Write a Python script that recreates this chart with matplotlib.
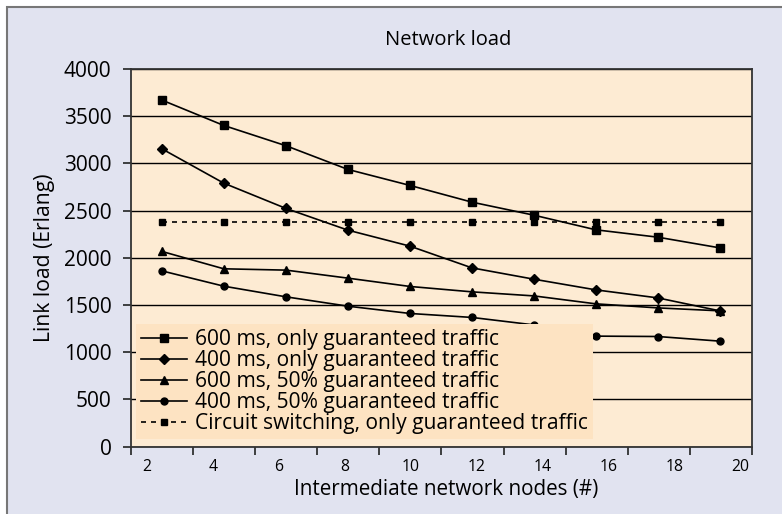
import matplotlib
matplotlib.use("Agg")
import matplotlib.pyplot as plt
from matplotlib.patches import Rectangle
import numpy as np

plt.rcParams['font.family'] = ['Open Sans', 'DejaVu Sans']

# intermediate network nodes (positions)
nodes = [2.45, 4.33, 6.22, 8.10, 9.98, 11.86, 13.74, 15.62, 17.50, 19.38]
x_labels = [2, 4, 6, 8, 10, 12, 14, 16, 18, 20]

load_600_only = [3671, 3402, 3187, 2936, 2767, 2590, 2452, 2297, 2219, 2106]
load_400_only = [3155, 2791, 2523, 2293, 2124, 1894, 1774, 1661, 1576, 1439]
load_600_50 = [2068, 1884, 1870, 1785, 1697, 1640, 1597, 1513, 1470, 1439]
load_400_50 = [1862, 1700, 1587, 1488, 1411, 1369, 1290, 1171, 1167, 1118]
load_circuit = [2378] * 10

labels = ["600 ms, only guaranteed traffic",
          "400 ms, only guaranteed traffic",
          "600 ms, 50% guaranteed traffic",
          "400 ms, 50% guaranteed traffic",
          "Circuit switching, only guaranteed traffic"]

fig = plt.figure(figsize=(7.82, 5.14), dpi=100)
fig.patch.set_facecolor('white')
fig.patches.append(Rectangle((7/782, -0.01), 1.0, 1 - 7/514 + 0.01,
                             transform=fig.transFigure, facecolor='#e1e3f0',
                             edgecolor='#777777', linewidth=1.5, zorder=-10))

ax = fig.add_axes([131/782, (514-446.7)/514, 621/782, 377.7/514])
ax.set_facecolor('#fdebd3')

ax.plot(nodes, load_600_only, color='black', lw=1.2, marker='s', ms=5.5, label=labels[0], zorder=3)
ax.plot(nodes, load_400_only, color='black', lw=1.2, marker='D', ms=5, label=labels[1], zorder=3)
ax.plot(nodes, load_600_50, color='black', lw=1.2, marker='^', ms=5.5, label=labels[2], zorder=3)
ax.plot(nodes, load_400_50, color='black', lw=1.2, marker='o', ms=5, label=labels[3], zorder=3)
ax.plot(nodes, load_circuit, color='black', lw=1.2, ls=(0, (3, 3)), marker='s', ms=4,
        label=labels[4], zorder=3)

xl = (1.514, 20.36)
ax.set_xlim(xl)
ax.set_ylim(0, 4000)
ax.set_yticks(np.arange(0, 4001, 500))
ax.yaxis.grid(True, color='black', lw=1.0)
ax.set_axisbelow(True)

step = (xl[1] - xl[0]) / 10
ax.set_xticks([xl[0] + i * step for i in range(11)])
ax.set_xticklabels([])
ax.set_xticks(x_labels, minor=True)
ax.set_xticklabels([str(v) for v in x_labels], minor=True)
ax.tick_params(axis='x', which='minor', length=0, labelsize=11.3, pad=9)
ax.tick_params(axis='x', which='major', length=6, width=1.2, direction='out', colors='#222222')
ax.tick_params(axis='y', length=6, width=1.2, labelsize=15, pad=8, colors='#222222')
for lab in ax.get_yticklabels():
    lab.set_color('black')
for lab in ax.get_xticklabels(minor=True):
    lab.set_color('black')

for sp in ax.spines.values():
    sp.set_color('#333333')
    sp.set_linewidth(1.3)

ax.set_xlabel("Intermediate network nodes (#)", fontsize=14.9, labelpad=3, x=0.507)
ax.set_ylabel("Link load (Erlang)", fontsize=15.2, labelpad=6)
ax.set_title("Network load", fontsize=14.5, pad=17, x=0.51)

leg = ax.legend(loc='lower left', bbox_to_anchor=(0.008, 0.02), borderaxespad=0,
                fontsize=15.1, frameon=True, fancybox=False, framealpha=1,
                facecolor='#fde3c2', edgecolor='none', handlelength=2.2,
                handletextpad=0.35, labelspacing=0.0, borderpad=0.25, numpoints=1)
leg.set_zorder(5)

fig.savefig("out.png", dpi=100)
